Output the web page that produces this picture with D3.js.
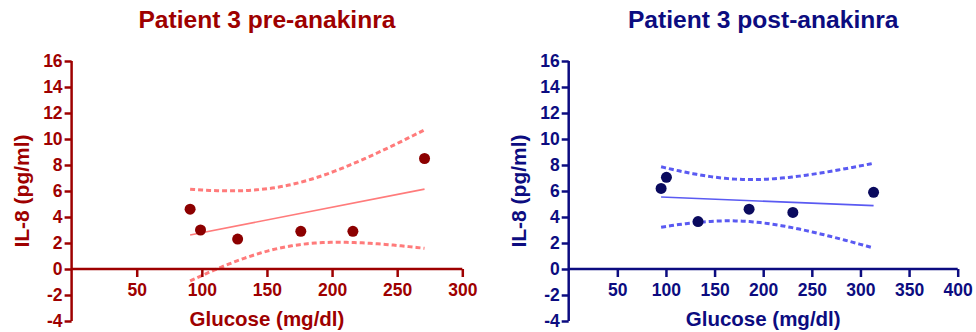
<!DOCTYPE html>
<html>
<head>
<meta charset="utf-8">
<script src="https://cdn.jsdelivr.net/npm/d3@7"></script>
<style>
  html, body { margin: 0; padding: 0; background: #fff; }
  svg { display: block; font-family: "Liberation Sans", Arial, sans-serif; }
</style>
</head>
<body>
<svg id="chart" width="976" height="332"></svg>
<script>
// Glucose (mg/dl) and IL-8 (pg/ml) for patient 3
const preGlucose  = [91, 99, 127.5, 176, 216, 271];
const preIL8      = [4.6, 3.0, 2.3, 2.9, 2.9, 8.5];
const postGlucose = [95, 100.5, 133, 185.5, 230.5, 313.5];
const postIL8     = [6.2, 7.05, 3.65, 4.6, 4.35, 5.9];

const yTicks = [-4, -2, 0, 2, 4, 6, 8, 10, 12, 14, 16];
const preXTicks  = [50, 100, 150, 200, 250, 300];
const postXTicks = [50, 100, 150, 200, 250, 300, 350, 400];

const titles = ["Patient 3 pre-anakinra", "Patient 3 post-anakinra"];
const xTitle = "Glucose (mg/dl)";
const yTitle = "IL-8 (pg/ml)";

// two-sided 95% t critical value, n - 2 = 4 degrees of freedom
const T_CRIT = 2.776;

const panels = [
  { title: titles[0], xs: preGlucose, ys: preIL8, xMax: 300, xTicks: preXTicks,
    x0: 71.6, x1: 462.3, axis: "#9e0000", dot: "#8c0000", fit: "#ff7b7b" },
  { title: titles[1], xs: postGlucose, ys: postIL8, xMax: 400, xTicks: postXTicks,
    x0: 568.7, x1: 957.7, axis: "#0c0c80", dot: "#0a0a5e", fit: "#5a5af2" }
];

const svg = d3.select("#chart");
const y = d3.scaleLinear().domain([-4, 16]).range([321, 61]);

// least-squares fit with 95% confidence band of the mean
function regression(xs, ys) {
  const n = xs.length;
  const mx = d3.mean(xs), my = d3.mean(ys);
  const sxx = d3.sum(xs, v => (v - mx) ** 2);
  const sxy = d3.sum(xs.map((v, i) => (v - mx) * (ys[i] - my)));
  const b = sxy / sxx, a = my - b * mx;
  const sse = d3.sum(xs.map((v, i) => (ys[i] - (a + b * v)) ** 2));
  const s = Math.sqrt(sse / (n - 2));
  const half = x => T_CRIT * s * Math.sqrt(1 / n + (x - mx) ** 2 / sxx);
  return { fit: x => a + b * x, half };
}

// plain hyphen for negative tick values
const tickFmt = d => String(d);

panels.forEach(p => {
  const x = d3.scaleLinear().domain([0, p.xMax]).range([p.x0, p.x1]);
  const g = svg.append("g");

  // title
  g.append("text")
    .attr("x", (p.x0 + p.x1) / 2).attr("y", 28)
    .attr("text-anchor", "middle")
    .attr("font-size", 24.6).attr("font-weight", "bold")
    .attr("fill", p.axis)
    .text(p.title);

  // regression line and confidence band
  const r = regression(p.xs, p.ys);
  const lo = d3.min(p.xs), hi = d3.max(p.xs);
  const grid = d3.range(0, 61).map(i => lo + (hi - lo) * i / 60);
  const line = d3.line().x(d => x(d[0])).y(d => y(d[1]));

  [1, -1].forEach(sign => {
    g.append("path")
      .datum(grid.map(v => [v, r.fit(v) + sign * r.half(v)]))
      .attr("d", line).attr("fill", "none")
      .attr("stroke", p.fit).attr("stroke-width", 3).attr("stroke-dasharray", "5,3");
  });
  g.append("path")
    .datum([[lo, r.fit(lo)], [hi, r.fit(hi)]])
    .attr("d", line).attr("fill", "none")
    .attr("stroke", p.fit).attr("stroke-width", 1.6);

  // axes
  const yAxis = d3.axisLeft(y).tickValues(yTicks).tickSize(7).tickPadding(2)
    .tickFormat(tickFmt);
  const yG = g.append("g").attr("transform", `translate(${p.x0},0)`).call(yAxis);

  const xAxis = d3.axisBottom(x).tickValues(p.xTicks).tickSize(8).tickPadding(3)
    .tickFormat(tickFmt);
  const xG = g.append("g").attr("transform", `translate(0,${y(0)})`).call(xAxis);

  [yG, xG].forEach(ag => {
    ag.attr("font-size", null).attr("font-family", null);
    ag.select(".domain").attr("stroke", p.axis).attr("stroke-width", 2.5);
    ag.selectAll(".tick line").attr("stroke", p.axis).attr("stroke-width", 2.5);
    ag.selectAll(".tick text")
      .attr("fill", p.axis).attr("font-size", 17.5).attr("font-weight", "bold");
  });
  // x axis spans only the positive range, starting at the y axis
  xG.select(".domain").attr("d", `M${x(0)},0H${x(p.xMax)}`);
  xG.selectAll(".tick text").attr("dy", "0.9em");
  yG.select(".domain").attr("d", `M0,${y(-4)}V${y(16)}`);

  // points
  g.selectAll("circle.pt").data(p.xs).join("circle")
    .attr("class", "pt")
    .attr("cx", d => x(d)).attr("cy", (d, i) => y(p.ys[i]))
    .attr("r", 5.5).attr("fill", p.dot);

  // axis titles
  g.append("text")
    .attr("x", (p.x0 + p.x1) / 2).attr("y", 326)
    .attr("text-anchor", "middle")
    .attr("font-size", 20.5).attr("font-weight", "bold")
    .attr("fill", p.axis)
    .text(xTitle);

  g.append("text")
    .attr("transform", `translate(${p.x0 - 43},${(y(-4) + y(16)) / 2}) rotate(-90)`)
    .attr("text-anchor", "middle")
    .attr("font-size", 21).attr("font-weight", "bold")
    .attr("fill", p.axis)
    .text(yTitle);
});
</script>
</body>
</html>
